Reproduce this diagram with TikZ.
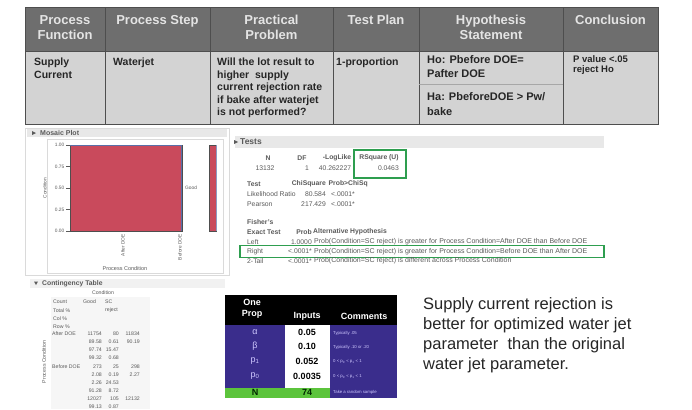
\documentclass[tikz,border=0pt]{standalone}
\usepackage{fontspec}
\setmainfont{Liberation Sans}
\definecolor{hdrC}{HTML}{6E6E6E}
\definecolor{hdrT}{HTML}{E4E4E4}
\definecolor{bodyC}{HTML}{D3D3D3}
\definecolor{lineC}{HTML}{4E4E4E}
\definecolor{bodyT}{HTML}{262626}
\definecolor{jmpT}{HTML}{5A5A5A}
\definecolor{redC}{HTML}{C94A5C}
\definecolor{stripC}{HTML}{5A6FA8}
\definecolor{purpC}{HTML}{3A2D8C}
\definecolor{lavC}{HTML}{CFC8FF}
\definecolor{grnC}{HTML}{5CC43C}
\definecolor{boxC}{HTML}{2E9E4F}
\definecolor{panelC}{HTML}{DADADA}
\definecolor{barC}{HTML}{E8E8E8}
\tikzset{
  hcell/.style={draw=lineC, line width=0.8pt, fill=hdrC, inner sep=0pt, outer sep=0pt, anchor=north west},
  bcell/.style={draw=lineC, line width=0.8pt, fill=bodyC, inner sep=0pt, outer sep=0pt, anchor=north west},
  htext/.style={anchor=north, align=center, text=hdrT, font=\bfseries\fontsize{13}{15}\selectfont, inner sep=0pt},
  btext/.style={anchor=north west, align=left, text=bodyT, font=\bfseries\fontsize{10.5}{12.5}\selectfont, inner sep=0pt},
  jmp/.style={font=\fontsize{6.8}{7}\selectfont, text=jmpT, inner sep=0pt},
  jmpb/.style={jmp, font=\bfseries\fontsize{6.8}{7}\selectfont},
  jmph/.style={jmp, font=\fontsize{7}{7}\selectfont, anchor=west},
  tick/.style={font=\fontsize{4.8}{5}\selectfont, text=jmpT, inner sep=0pt},
  ctab/.style={font=\fontsize{5.2}{6}\selectfont, text=jmpT, inner sep=0pt},
  gbox/.style={draw=boxC, line width=1.3pt},
  ophead/.style={text=white, font=\bfseries\fontsize{9}{11}\selectfont, inner sep=0pt, align=center},
  opsym/.style={text=lavC, font=\fontsize{9}{10}\selectfont, inner sep=0pt},
  opval/.style={text=black, font=\bfseries\fontsize{9}{10}\selectfont, inner sep=0pt},
  opcom/.style={text=lavC, font=\fontsize{4.3}{5}\selectfont, inner sep=0pt, anchor=west},
  note/.style={anchor=north west, align=left, text=bodyT, font=\fontsize{16.5}{20}\selectfont, inner sep=0pt}
}
\begin{document}
\begin{tikzpicture}[x=1pt,y=-1pt]
\useasboundingbox (0,0) rectangle (692,409);
\fill[white] (0,0) rectangle (692,409);

% ---------- header table ----------
\foreach \x/\w [count=\i] in {25/80,105/105,210/123,333/86,419/144,563/95} {
  \node[hcell, minimum width=\w pt, minimum height=44pt] (h\i) at (\x,7) {};
  \node[bcell, minimum width=\w pt, minimum height=73pt] (b\i) at (\x,51) {};
}
\node[htext] (ht1) at (h1.north |- 0,15) {Process\\Function};
\node[htext] (ht2) at (h2.north |- 0,15) {Process Step};
\node[htext] (ht3) at (h3.north |- 0,15) {Practical\\Problem};
\node[htext] (ht4) at (h4.north |- 0,15) {Test Plan};
\node[htext] (ht5) at (h5.north |- 0,15) {Hypothesis\\Statement};
\node[htext] (ht6) at (h6.north |- 0,15) {Conclusion};

\node[btext] (bt1) at (34,58) {Supply\\Current};
\node[btext] (bt2) at (113,58) {Waterjet};
\node[btext] (bt3) at (217,58) {Will the lot result to\\higher \ supply\\current rejection rate\\if bake after waterjet\\is not performed?};
\node[btext] (bt4) at (336,58) {1-proportion};
\node[btext, font=\bfseries\fontsize{11}{14}\selectfont] (bt5a) at (427,55) {Ho: Pbefore DOE=\\Pafter DOE};
\draw[lineC!50, line width=0.5pt] (b5.west |- 0,84) -- (b5.east |- 0,84);
\node[btext, font=\bfseries\fontsize{11}{15}\selectfont] (bt5b) at (427,92) {Ha: PbeforeDOE > Pw/\\bake};
\node[btext, font=\bfseries\fontsize{9.5}{10}\selectfont] (bt6) at (573,55) {P value <.05\\reject Ho};

% ---------- mosaic plot panel ----------
\draw[panelC, line width=0.6pt] (25,128) rectangle (229,275);
\fill[barC] (27,129) rectangle (227,137);
\node[jmpb, font=\bfseries\fontsize{7}{7}\selectfont, anchor=west] (mtitle) at (40,132.5) {Mosaic Plot};
\fill[jmpT] (32,131) -- (36,133) -- (32,135) -- cycle;
\draw[panelC, line width=0.5pt] (47,139) rectangle (223,273);
\node[draw=lineC, line width=0.4pt, fill=redC, inner sep=0pt, outer sep=0pt, anchor=north west, minimum width=112pt, minimum height=86pt] (mbig) at (70,145) {};
\fill[stripC] (180.5,145) rectangle (182,231);
\draw[stripC, line width=0.6pt] (70,145.3) -- (182,145.3);
\node[draw=lineC, line width=0.4pt, fill=redC, inner sep=0pt, outer sep=0pt, anchor=north west, minimum width=7pt, minimum height=86pt] (msmall) at (209,145) {};
\draw[stripC!70, line width=0.6pt] (216.3,145) -- (216.3,231);
\foreach \v/\yy [count=\i] in {1.00/145,0.75/166.5,0.50/188,0.25/209.5,0.00/231} {
  \draw[jmpT, line width=0.4pt] (66,\yy) -- (70,\yy);
  \node[tick, anchor=east] (yl\i) at (64.5,\yy) {\v};
}
\node[tick, rotate=90] (ylab) at (45,188) {Condition};
\node[tick, anchor=west] (good) at (185,188) {Good};
\node[tick, rotate=90, anchor=east] (xl1) at (123,234) {After DOE};
\node[tick, rotate=90, anchor=east] (xl2) at (180,234) {Before DOE};
\node[tick, font=\fontsize{5.5}{6}\selectfont] (xlab) at (125,269) {Process Condition};

% ---------- contingency table ----------
\fill[barC!60] (30,278.5) rectangle (225,288);
\fill[jmpT] (34,281.5) -- (38,281.5) -- (36,285) -- cycle;
\node[jmpb, font=\bfseries\fontsize{6.8}{7}\selectfont, anchor=west] (ctitle) at (42,283.5) {Contingency Table};
\fill[gray!7] (51,297) rectangle (150,409);
\node[ctab] (ccond) at (103,293) {Condition};
\node[ctab, anchor=west] (ccount) at (53,302) {Count};
\node[ctab, anchor=west] (cgood) at (83,302) {Good};
\node[ctab, anchor=west] (csc) at (105,302) {SC};
\node[ctab, anchor=west] (ctot) at (53,310.5) {Total \%};
\node[ctab, anchor=west] (crej) at (105,310.5) {reject};
\node[ctab, anchor=west] (ccol) at (53,319) {Col \%};
\node[ctab, anchor=west] (crow) at (53,327) {Row \%};
\node[ctab, rotate=90] (cpc) at (44,362) {Process Condition};
\node[ctab, anchor=west] (caf) at (52,333.5) {After DOE};
\node[ctab, anchor=west] (cbf) at (52,367) {Before DOE};
\foreach \a/\b/\c/\yy [count=\i] in {11754/80/11834/333.5, 89.58/0.61/90.19/341.5, 97.74/15.47//349.5, 99.32/0.68//357.5, 273/25/298/366.5, 2.08/0.19/2.27/374.5, 2.26/24.53//382.5, 91.28/8.72//390.5, 12027/105/12132/398.5, 99.13/0.87//406.5} {
  \node[ctab, anchor=east] (cv\i a) at (102,\yy) {\a};
  \node[ctab, anchor=east] (cv\i b) at (119,\yy) {\b};
  \node[ctab, anchor=east] (cv\i c) at (140,\yy) {\c};
}

% ---------- tests panel ----------
\fill[barC] (235,136) rectangle (604,148);
\fill[jmpT] (234,140) -- (238,142) -- (234,144) -- cycle;
\node[jmpb, font=\bfseries\fontsize{8.5}{9}\selectfont, anchor=west] (ttitle) at (240,142) {Tests};
\node[jmpb] (tN) at (268,158) {N};
\node[jmpb] (tDF) at (302,158) {DF};
\node[jmpb] (tLL) at (337,158) {-LogLike};
\node[jmpb] (tRS) at (379,158) {RSquare (U)};
\node[jmp] (vN) at (265,168) {13132};
\node[jmp] (vDF) at (307,168) {1};
\node[jmp] (vLL) at (335,168) {40.262227};
\node[jmp, anchor=east] (vRS) at (399,168) {0.0463};
\draw[gbox] (354,150) rectangle (406,178);
\node[jmpb, anchor=west] (tTest) at (247,184) {Test};
\node[jmpb, anchor=east] (tCS) at (326,184) {ChiSquare};
\node[jmpb, anchor=west] (tPC) at (328.5,184) {Prob>ChiSq};
\node[jmp, anchor=west] (tLR) at (247,194) {Likelihood Ratio};
\node[jmp, anchor=east] (vLR1) at (326,194) {80.584};
\node[jmp, anchor=west] (vLR2) at (331,194) {<.0001*};
\node[jmp, anchor=west] (tPe) at (247,204) {Pearson};
\node[jmp, anchor=east] (vPe1) at (326,204) {217.429};
\node[jmp, anchor=west] (vPe2) at (331,204) {<.0001*};
\node[jmpb, anchor=west] (tF) at (247,222) {Fisher's};
\node[jmpb, anchor=west] (tET) at (247,232) {Exact Test};
\node[jmpb] (tPr) at (304,232) {Prob};
\node[jmpb, anchor=west] (tAH) at (313,232) {Alternative Hypothesis};
\node[jmp, anchor=west] (tL) at (247,242) {Left};
\node[jmp, anchor=east] (vL) at (312,242) {1.0000};
\node[jmph] (hL) at (314,242) {Prob(Condition=SC reject) is greater for Process Condition=After DOE than Before DOE};
\node[jmp, anchor=west] (tR) at (247,251.5) {Right};
\node[jmp, anchor=east] (vR) at (312,251.5) {<.0001*};
\node[jmph] (hR) at (314,251.5) {Prob(Condition=SC reject) is greater for Process Condition=Before DOE than After DOE};
\draw[gbox] (240,245.5) rectangle (604,257.5);
\node[jmp, anchor=west] (t2) at (247,261) {2-Tail};
\node[jmp, anchor=east] (v2) at (312,261) {<.0001*};
\node[jmph] (h2) at (314,261) {Prob(Condition=SC reject) is different across Process Condition};

% ---------- One Prop table ----------
\fill[black] (225,295) rectangle (397,325);
\fill[purpC] (225,325) rectangle (285,388);
\fill[white] (285,325) rectangle (330,388);
\fill[purpC] (330,325) rectangle (397,397.5);
\fill[grnC] (225,388) rectangle (330,397.5);
\node[ophead] (oOne) at (252,309) {One\\Prop};
\node[ophead] (oIn) at (307,316) {Inputs};
\node[ophead] (oCom) at (364,316) {Comments};
\node[opsym] (sA) at (255,332) {α};
\node[opsym] (sB) at (255,346) {β};
\node[opsym] (sP1) at (255,361) {p\textsubscript{1}};
\node[opsym] (sP0) at (255,376) {p\textsubscript{0}};
\node[opval, text=black!85!green] (sN) at (255,392) {N};
\node[opval] (iA) at (307,332) {0.05};
\node[opval] (iB) at (307,346) {0.10};
\node[opval] (iP1) at (307,361) {0.052};
\node[opval] (iP0) at (307,376) {0.0035};
\node[opval, text=black!85!green] (iN) at (307,392) {74};
\node[opcom] (cA) at (333,333) {Typically .05};
\node[opcom] (cB) at (333,347) {Typically .10 or .20};
\node[opcom] (cP1) at (333,362) {0 < p\textsubscript{0} < p\textsubscript{1} < 1};
\node[opcom] (cP0) at (333,377) {0 < p\textsubscript{0} < p\textsubscript{1} < 1};
\node[opcom] (cN) at (333,392) {Take a random sample};

% ---------- conclusion note ----------
\node[note] (noteText) at (423,297) {Supply current rejection is\\better for optimized water jet\\parameter \ than the original\\water jet parameter.};
\end{tikzpicture}
\end{document}
